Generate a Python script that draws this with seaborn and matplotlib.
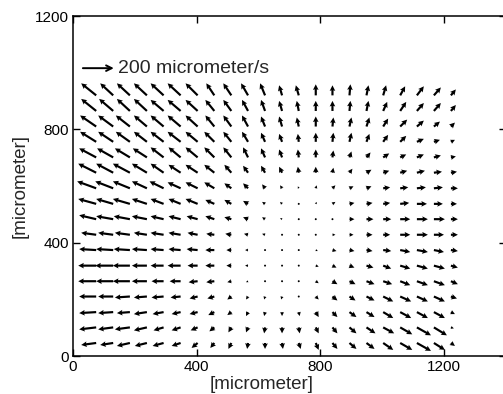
import numpy as np
import matplotlib
matplotlib.use("Agg")
import matplotlib.pyplot as plt
import seaborn as sns

# grid of the measurement points (micrometer)
x_um = [75, 130, 184, 239, 293, 348, 403, 457, 512, 566, 621,
        676, 730, 785, 839, 894, 949, 1003, 1058, 1112, 1167, 1222]
y_um = [46, 101, 155, 210, 264, 319, 374, 428, 483, 537, 592,
        647, 701, 756, 810, 865, 920]

# velocity components (micrometer/s), one list per row, bottom row first
u_rows = [
    [-97, -84, -84, -78, -71, -58, -39, -26, -19, -6, 0, 6, 13, 19, 32, 45, 52, 65, 78, 91, 71, 26],
    [-110, -97, -97, -84, -65, -58, -45, -32, -19, -13, -6, 0, 6, 19, 32, 45, 58, 71, 78, 91, 84, 19],
    [-110, -97, -84, -84, -71, -58, -52, -39, -26, -13, -6, 0, 6, 19, 32, 45, 52, 65, 71, 71, 71, 26],
    [-110, -97, -97, -84, -78, -65, -52, -45, -26, -13, -6, -6, 0, 19, 32, 39, 52, 65, 71, 71, 71, 39],
    [-116, -110, -110, -97, -78, -71, -58, -52, -26, -13, -6, -6, 0, 19, 32, 39, 52, 58, 65, 71, 71, 45],
    [-116, -116, -110, -97, -84, -84, -65, -58, -32, -19, -13, -6, -6, 19, 26, 32, 45, 52, 65, 71, 71, 45],
    [-110, -110, -104, -97, -84, -78, -71, -58, -32, -19, -13, -6, 0, 13, 26, 32, 39, 52, 65, 71, 65, 45],
    [-97, -97, -97, -84, -84, -78, -65, -52, -39, -26, -19, -13, 0, 6, 19, 26, 39, 45, 65, 71, 65, 45],
    [-110, -110, -104, -97, -84, -78, -71, -58, -45, -32, -19, -13, 0, 6, 13, 32, 45, 52, 65, 71, 71, 45],
    [-116, -110, -110, -97, -84, -78, -78, -58, -45, -32, -19, -13, 0, 6, 19, 32, 39, 45, 58, 65, 58, 39],
    [-123, -116, -110, -97, -91, -84, -78, -65, -45, -32, -19, -13, -6, 6, 19, 26, 32, 45, 52, 58, 58, 45],
    [-116, -110, -110, -97, -84, -78, -78, -65, -45, -32, -26, -19, -6, 0, 6, 19, 32, 39, 45, 52, 52, 39],
    [-110, -104, -97, -91, -84, -78, -78, -65, -52, -32, -26, -19, -6, 0, 6, 13, 26, 39, 39, 45, 45, 32],
    [-104, -97, -91, -84, -84, -84, -78, -65, -52, -39, -26, -19, -6, 0, 6, 13, 19, 32, 39, 45, 39, 26],
    [-104, -97, -91, -84, -84, -84, -78, -58, -52, -39, -26, -19, -13, 0, 6, 13, 19, 32, 45, 45, 39, 26],
    [-97, -91, -84, -84, -84, -84, -78, -58, -52, -39, -26, -19, -13, 0, 0, 6, 13, 26, 39, 45, 45, 32],
    [-97, -84, -84, -84, -84, -84, -78, -52, -52, -45, -32, -19, -19, 0, 0, 6, 13, 19, 32, 45, 45, 32],
]
v_rows = [
    [-14, -14, -21, -21, -21, -21, -35, -35, -42, -42, -42, -42, -42, -49, -42, -42, -42, -49, -49, -56, -49, -21],
    [-14, -14, -14, -21, -21, -21, -21, -28, -35, -35, -42, -42, -42, -42, -42, -42, -42, -42, -49, -56, -56, -7],
    [-7, -7, -7, -14, -14, -14, -14, -21, -21, -28, -28, -28, -28, -35, -35, -35, -35, -42, -42, -42, -42, -14],
    [0, 0, -7, -7, -7, -7, -14, -14, -21, -21, -21, -21, -14, -21, -28, -28, -28, -35, -35, -35, -35, -14],
    [0, 0, 0, 0, 0, 0, -7, -7, -7, -7, -7, -7, -7, -14, -21, -21, -21, -21, -28, -28, -28, -21],
    [0, 0, 0, 0, 0, 0, 0, 0, 0, 0, 0, 0, 0, -7, -14, -14, -14, -21, -21, -21, -21, -14],
    [7, 7, 7, 7, 7, 7, 7, 0, 0, 0, 0, 0, 0, -7, -7, -7, -7, -7, -14, -14, -14, -7],
    [14, 14, 14, 14, 14, 14, 14, 7, 7, 7, 7, 0, 0, 0, 0, 0, 0, 0, 0, 0, 0, 0],
    [28, 21, 21, 21, 21, 21, 21, 21, 14, 14, 14, 7, 0, 0, 0, 0, 0, 0, 0, 0, 0, 0],
    [35, 35, 35, 35, 35, 35, 35, 28, 28, 21, 14, 14, 7, 14, 14, 7, 7, 7, 7, 0, 0, 0],
    [49, 49, 49, 49, 49, 42, 42, 42, 35, 35, 28, 21, 14, 21, 21, 14, 14, 7, 7, 7, 7, 0],
    [64, 64, 64, 64, 64, 56, 56, 56, 56, 49, 49, 42, 42, 42, 35, 28, 21, 14, 14, 14, 7, 7],
    [64, 64, 64, 64, 71, 71, 71, 71, 71, 71, 64, 56, 56, 56, 49, 42, 35, 28, 21, 21, 14, 7],
    [71, 71, 71, 71, 71, 71, 71, 71, 71, 71, 64, 56, 56, 64, 64, 64, 56, 49, 42, 21, 14, 14],
    [78, 78, 78, 78, 78, 78, 78, 78, 78, 78, 71, 71, 64, 71, 64, 64, 64, 56, 49, 42, 35, 28],
    [85, 85, 85, 85, 78, 78, 78, 78, 78, 78, 78, 71, 71, 71, 71, 71, 71, 64, 64, 56, 56, 42],
    [85, 85, 85, 85, 85, 85, 85, 85, 85, 85, 85, 71, 71, 78, 71, 78, 71, 71, 64, 64, 56, 42],
]

key_speed = 200          # micrometer/s
key_label = "200 micrometer/s"
axis_label = "[micrometer]"
ticks = [0, 400, 800, 1200]

sns.set_style("ticks")
plt.rcParams['font.family'] = ['Liberation Sans', 'DejaVu Sans']

X, Y = np.meshgrid(x_um, y_um)
U = np.array(u_rows, dtype=float)
V = np.array(v_rows, dtype=float)
scale = 2.0  # micrometer/s per micrometer of arrow length

fig = plt.figure(figsize=(5.03, 3.94), dpi=100)
ax = fig.add_axes([0.1451, 0.0964, 0.8608, 0.8629])

ax.quiver(X, Y, U, V, angles='xy', scale_units='xy', scale=scale,
          color='black', width=0.005, headwidth=2.6, headlength=2.6,
          headaxislength=2.3, minshaft=1.0)

# reference arrow
kx, ky = 32, 1016
ax.annotate('', xy=(kx + key_speed / scale, ky), xytext=(kx, ky),
            arrowprops=dict(arrowstyle='->', lw=1.4, color='black',
                            shrinkA=0, shrinkB=0))
ax.text(146, ky, key_label, fontsize=14, va='center', ha='left')

ax.set_xlim(0, 1400)
ax.set_ylim(0, 1200)
ax.set_xticks(ticks)
ax.set_yticks(ticks)
ax.tick_params(direction='in', length=5, width=1, top=True, right=True,
               labelsize=11, pad=3, colors='black')
for s in ax.spines.values():
    s.set_linewidth(1.1)
    s.set_color('black')

ax.set_xlabel(axis_label, fontsize=13.5)
ax.xaxis.set_label_coords(0.435, -0.058)
ax.set_ylabel(axis_label, fontsize=13.5)
ax.yaxis.set_label_coords(-0.103, 0.5)

fig.savefig('out.png', dpi=100)
